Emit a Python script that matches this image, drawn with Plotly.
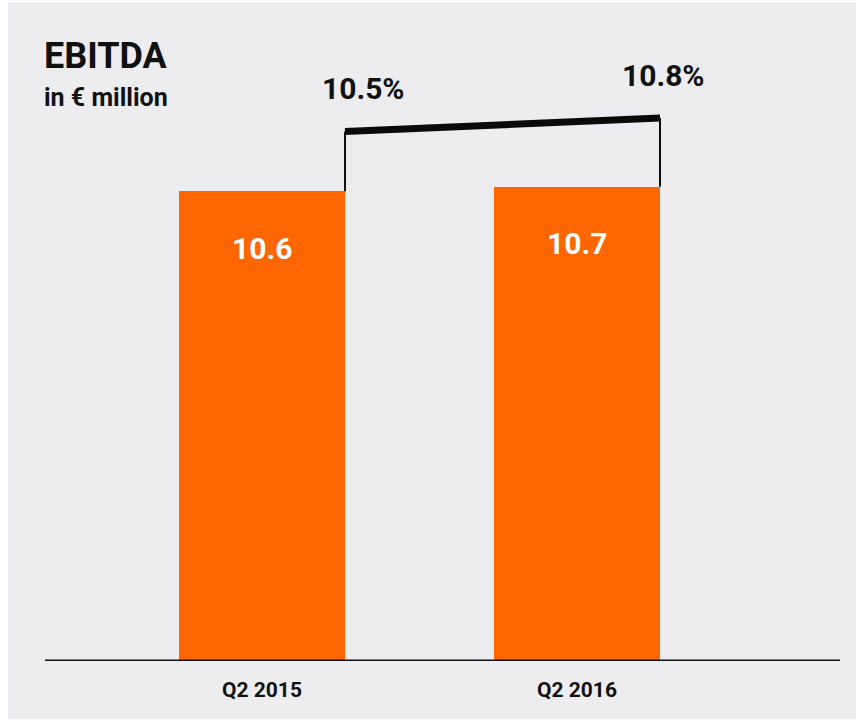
import plotly.graph_objects as go

# ---- data ----
categories = ["Q2 2015", "Q2 2016"]
ebitda = [10.6, 10.7]
margin_pct = [10.5, 10.8]
bar_labels = ["10.6", "10.7"]
margin_labels = ["10.5%", "10.8%"]
title_text = "EBITDA"
subtitle_text = "in € million"

# ---- style ----
ORANGE = "#ff6600"
PANEL = "#ededef"
FONT = "Roboto"
W, H = 856, 720
ML, MR, MT, MB = 45, 16, 20, 59
bar_w = 0.527
bracket_offset = 1.45  # vertical placement of margin bracket above bars
label_xshift = [18, 3]

x_idx = list(range(len(categories)))
plot_w = W - ML - MR
plot_h = H - MT - MB

fig = go.Figure()
fig.add_trace(go.Bar(
    x=x_idx, y=ebitda, width=bar_w,
    marker=dict(color=ORANGE, line=dict(width=0)),
    hoverinfo="skip", showlegend=False,
))

# bracket for margin
edge_x = [i + bar_w / 2 for i in x_idx]
top_y = [m + bracket_offset for m in margin_pct]
vx, vy = [], []
for i in x_idx:
    vx += [edge_x[i], edge_x[i], None]
    vy += [ebitda[i], top_y[i], None]
fig.add_trace(go.Scatter(x=vx, y=vy, mode="lines",
                         line=dict(color="#111111", width=2),
                         hoverinfo="skip", showlegend=False))
fig.add_trace(go.Scatter(x=edge_x, y=top_y, mode="lines",
                         line=dict(color="#0a0a0a", width=7),
                         hoverinfo="skip", showlegend=False))

annotations = []
for i in x_idx:
    annotations.append(dict(
        x=i, y=ebitda[i], xref="x", yref="y", text=bar_labels[i],
        showarrow=False, yshift=-57, xanchor="center", yanchor="middle",
        font=dict(family=FONT, size=30, color="white", weight="bold")))
    annotations.append(dict(
        x=edge_x[i], y=top_y[i], xref="x", yref="y", text=margin_labels[i],
        showarrow=False, yshift=43, xshift=label_xshift[i],
        xanchor="center", yanchor="middle",
        font=dict(family=FONT, size=30, color="#111111", weight="bold")))

def px_to_paper_y(py):
    return (H - MB - py) / plot_h

def px_to_paper_x(px):
    return (px - ML) / plot_w

annotations.append(dict(
    x=px_to_paper_x(42), y=px_to_paper_y(56), xref="paper", yref="paper",
    text=title_text, showarrow=False, xanchor="left", yanchor="middle",
    font=dict(family=FONT, size=36, color="#111111", weight="bold")))
annotations.append(dict(
    x=px_to_paper_x(42), y=px_to_paper_y(97), xref="paper", yref="paper",
    text=subtitle_text, showarrow=False, xanchor="left", yanchor="middle",
    font=dict(family=FONT, size=25, color="#111111", weight="bold")))

shapes = [
    dict(type="rect", xref="paper", yref="paper", layer="below",
         x0=px_to_paper_x(8), x1=px_to_paper_x(W + 5),
         y0=px_to_paper_y(719), y1=px_to_paper_y(3),
         fillcolor=PANEL, line=dict(width=0)),
    dict(type="line", xref="paper", yref="y", x0=0, x1=1, y0=0, y1=0,
         line=dict(color="#111111", width=3), layer="above"),
]

px_per_unit = 44.32
y_top = plot_h / px_per_unit

fig.update_layout(
    width=W, height=H,
    margin=dict(l=ML, r=MR, t=MT, b=MB),
    paper_bgcolor="white", plot_bgcolor="rgba(0,0,0,0)",
    xaxis=dict(range=[(ML - (262 - 0)) / 315, (W - MR - 262) / 315],
               tickmode="array", tickvals=x_idx, ticktext=categories,
               showgrid=False, zeroline=False, showline=False, ticks="",
               ticklabelstandoff=14,
               tickfont=dict(family=FONT, size=21, color="#111111", weight="bold")),
    yaxis=dict(range=[0, y_top], visible=False, showgrid=False, zeroline=False),
    annotations=annotations, shapes=shapes,
    bargap=0,
)

fig.write_html("out.html",
               config={"displayModeBar": False},
               post_script="document.body.style.margin='0';document.body.style.overflow='hidden';")
